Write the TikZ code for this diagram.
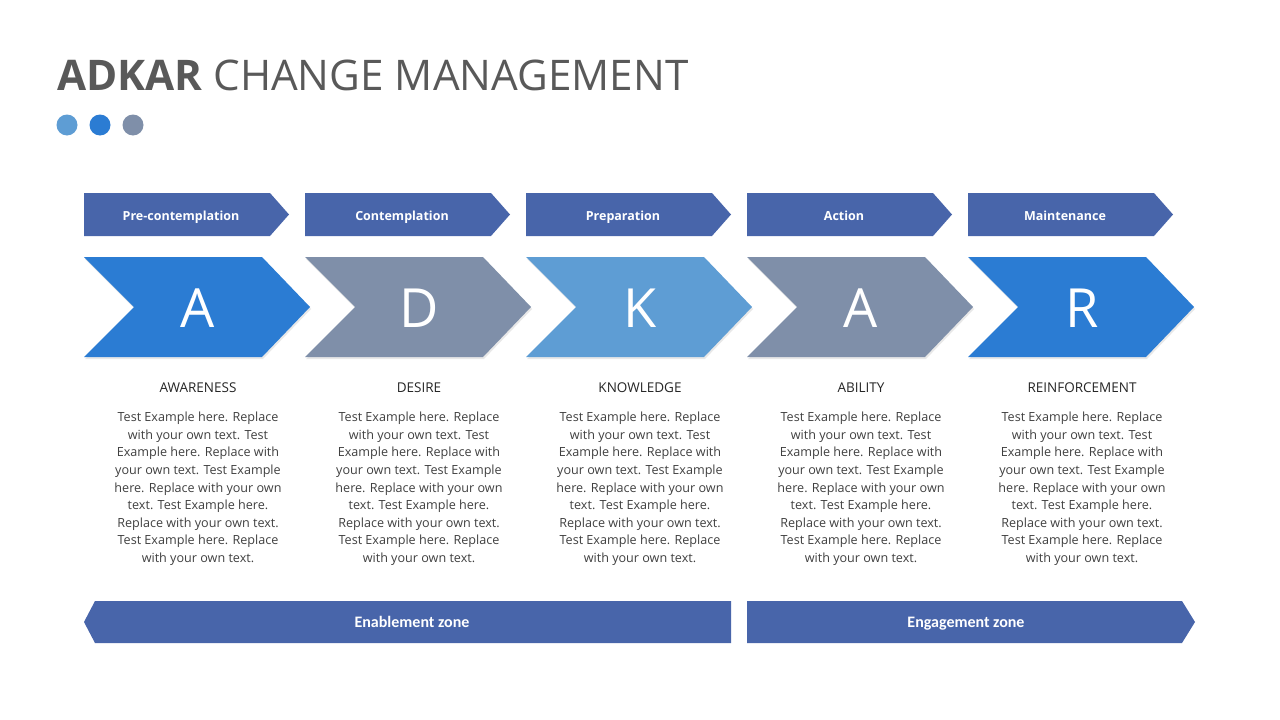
\documentclass[tikz,border=0pt]{standalone}
\usepackage{fontspec}
\setmainfont{Open Sans}
\newfontfamily\zonefont{Carlito}
\usetikzlibrary{shadows}

\definecolor{tabblue}{RGB}{72,101,170}
\definecolor{adkblue}{RGB}{43,124,211}
\definecolor{adkgray}{RGB}{127,143,169}
\definecolor{adklight}{RGB}{94,157,212}
\definecolor{titlegray}{RGB}{89,89,89}
\definecolor{bodygray}{RGB}{64,64,64}

\newcommand\adkbody{Test Example here. Replace\\with your own text. Test\\Example here. Replace with\\your own text. Test Example\\here. Replace with your own\\text. Test Example here.\\Replace with your own text.\\Test Example here. Replace\\with your own text.}

\tikzset{
  tabshape/.style={fill=tabblue},
  tablabel/.style={text=white,text height=9.5pt,text depth=3.5pt,
    font=\bfseries\fontsize{12.5}{15}\selectfont},
  chevshadow/.style={drop shadow={opacity=0.18,shadow xshift=1pt,shadow yshift=-2pt}},
  letter/.style={text=white,font=\fontsize{54}{60}\selectfont},
  stagetitle/.style={text=black!85,text height=10pt,text depth=3pt,
    font=\fontsize{13.5}{15}\selectfont},
  body/.style={text=bodygray,align=center,anchor=north,inner sep=0pt,
    font=\fontsize{12.6}{17.6}\selectfont},
  zonelabel/.style={text=white,text height=10.5pt,text depth=4pt,
    font=\zonefont\bfseries\fontsize{16}{18}\selectfont},
}

\begin{document}
\begin{tikzpicture}[x=1pt,y=-1pt]

  \fill[white] (0,0) rectangle (1280,720);
  \useasboundingbox (0,0) rectangle (1280,720);

  % heading
  \node[anchor=base west,inner sep=0pt,text=titlegray,
    font=\fontsize{42.2}{50}\selectfont] (title) at (57,90)
    {\textbf{ADKAR} CHANGE MANAGEMENT};
  \fill[adklight] (67,125) circle (10.5);
  \fill[adkblue]  (100,125) circle (10.5);
  \fill[adkgray]  (133,125) circle (10.5);

  % five stages
  \foreach \i/\tabtxt/\col/\ltr/\stage in {
      0/Pre-contemplation/adkblue/A/AWARENESS,
      1/Contemplation/adkgray/D/DESIRE,
      2/Preparation/adklight/K/KNOWLEDGE,
      3/Action/adkgray/A/ABILITY,
      4/Maintenance/adkblue/R/REINFORCEMENT} {
    \pgfmathsetmacro\L{84+221*\i}
    \fill[tabshape] (\L,193) -- (\L+186,193) -- (\L+205,214.5)
      -- (\L+186,236) -- (\L,236) -- cycle;
    \node[tablabel] (tab\i) at (\L+97,217) {\tabtxt};
    \fill[\col,chevshadow] (\L,257) -- (\L+178,257) -- (\L+226,307)
      -- (\L+178,357) -- (\L,357) -- (\L+50,307) -- cycle;
    \node[letter] (ltr\i) at (\L+114,308) {\ltr};
    \node[stagetitle] (ttl\i) at (\L+114,389) {\stage};
    \node[body] (txt\i) at (\L+114,412) {\adkbody};
  }

  % zones
  \fill[tabshape] (84,622) -- (95,601) -- (731,601) -- (731,643)
    -- (95,643) -- cycle;
  \node[zonelabel] (enable) at (412,624) {Enablement zone};
  \fill[tabshape] (747,601) -- (1182,601) -- (1195,622) -- (1182,643)
    -- (747,643) -- cycle;
  \node[zonelabel] (engage) at (966,624) {Engagement zone};

\end{tikzpicture}
\end{document}
